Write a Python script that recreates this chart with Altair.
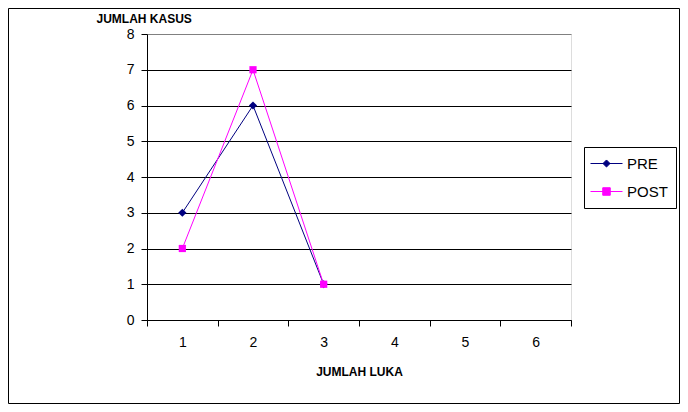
import altair as alt
import pandas as pd

categories = [1, 2, 3]
all_categories = [1, 2, 3, 4, 5, 6]
pre_values = [3, 6, 1]
post_values = [2, 7, 1]
series_names = ["PRE", "POST"]
series_colors = ["#000080", "#FF00FF"]
marker_shapes = ["diamond", "square"]
marker_sizes = [68, 52]
legend_shapes = [
    "M-1.25,0L2.75,0M0.75,-0.44L1.19,0L0.75,0.44L0.31,0Z",
    "M-1.25,0L2.75,0M0.28,-0.47L1.22,-0.47L1.22,0.47L0.28,0.47Z",
]
y_ticks = list(range(0, 9))

rows = []
for name, vals in zip(series_names, [pre_values, post_values]):
    for c, v in zip(categories, vals):
        rows.append({"luka": c, "kasus": v, "seri": name})
df = pd.DataFrame(rows)

FONT = "Liberation Sans"

x_enc = alt.X(
    "luka:O",
    scale=alt.Scale(type="band", domain=all_categories, paddingInner=0, paddingOuter=0),
    bandPosition=0.5,
    axis=alt.Axis(
        title="JUMLAH LUKA", titleFont=FONT, titleFontSize=12, titleFontWeight="bold",
        titleColor="black", titleY=51, titleBaseline="middle",
        labelAngle=0, labelFont=FONT, labelFontSize=14, labelColor="black", labelPadding=9,
        tickBand="extent", tickSize=6, tickColor="black", domainColor="black", grid=False,
    ),
)
y_enc = alt.Y(
    "kasus:Q",
    scale=alt.Scale(domain=[0, 8], nice=False),
    axis=alt.Axis(
        title="JUMLAH KASUS", titleFont=FONT, titleFontSize=12, titleFontWeight="bold",
        titleColor="black", titleAngle=0, titleAlign="left", titleBaseline="middle",
        titleX=-51, titleY=-16,
        values=y_ticks, labelFont=FONT, labelFontSize=14, labelColor="black", labelPadding=7,
        tickSize=6, tickColor="black", domainColor="black", grid=True,
        gridColor={"condition": {"test": "datum.value === 8", "value": "#808080"}, "value": "black"},
    ),
)
color_scale = alt.Scale(domain=series_names, range=series_colors)

base = alt.Chart(df)
lines = base.mark_line(strokeWidth=1).encode(
    x=x_enc, y=y_enc, color=alt.Color("seri:N", scale=color_scale, legend=None),
    order=alt.Order("luka:O"),
)
points = base.mark_point(filled=True, opacity=1).encode(
    x=x_enc, y=y_enc,
    color=alt.Color("seri:N", scale=color_scale, legend=None),
    shape=alt.Shape("seri:N", scale=alt.Scale(domain=series_names, range=marker_shapes), legend=None),
    size=alt.Size("seri:N", scale=alt.Scale(domain=series_names, range=marker_sizes), legend=None),
)

leg = alt.Legend(
    title=None, orient="none", legendX=437, legendY=113, padding=8,
    strokeColor="black", fillColor="white", symbolSize=256, symbolStrokeWidth=1,
    symbolOpacity=1, labelFont=FONT, labelFontSize=15, labelColor="black",
    labelOffset=18, rowPadding=11,
)
legend_layer = base.transform_filter("false").mark_point(filled=True, strokeWidth=1).encode(
    color=alt.Color("seri:N", scale=color_scale, legend=leg),
    stroke=alt.Stroke("seri:N", scale=alt.Scale(domain=series_names, range=series_colors), legend=leg),
    shape=alt.Shape("seri:N", scale=alt.Scale(domain=series_names, range=legend_shapes), legend=leg),
)

frame = alt.Chart(alt.Data(values=[{}])).mark_rect(fillOpacity=0, stroke="black", strokeWidth=1).encode(
    x=alt.value(-138.5), x2=alt.value(532.5), y=alt.value(-25.5), y2=alt.value(369.5),
)

chart = alt.layer(frame, lines, points, legend_layer).resolve_scale(
    shape="independent", size="independent"
).resolve_legend(
    color="independent", stroke="independent", shape="independent", size="independent"
).properties(
    width=424, height=286, autosize="none",
    padding={"left": 139, "top": 26, "right": 109, "bottom": 84},
).configure_view(
    fill="#C0C0C0", stroke="#808080", strokeWidth=1
).configure(background="white")

chart.save("out.html", embed_options={"renderer": "svg", "actions": False})
